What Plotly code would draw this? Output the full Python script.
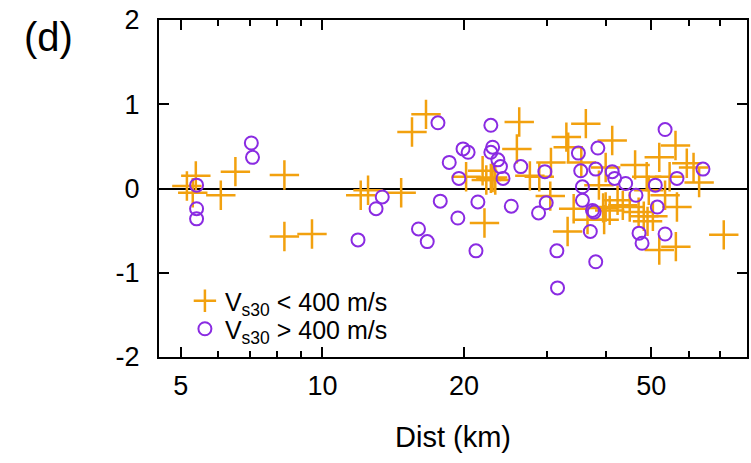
import plotly.graph_objects as go

# Residuals versus hypocentral distance, split by site class
dist_soft = [5.15, 5.38, 5.3, 6.08, 6.53, 8.3, 8.3, 9.5, 12.06, 12.5, 14.7, 15.5, 16.6,
             20.2, 21.9, 22.3, 22.8, 23.3, 23.0, 22.1, 26.2, 25.9, 27.6, 28.9, 30.6, 30.5,
             33.0, 33.3, 36.3, 35.5, 33.2, 34.2, 36.6, 38.7, 39.5, 39.7, 41.3, 56.3, 52.0,
             46.2, 59.5, 61.5, 48.9, 54.7, 63.2, 40.0, 49.4, 40.0, 42.4, 43.5, 45.0, 40.8,
             47.0, 48.2, 49.1, 50.4, 53.5, 56.7, 52.0, 56.4, 71.3]
res_soft = [0.03, 0.15, -0.05, -0.08, 0.2, 0.16, -0.57, -0.54, -0.08, -0.02, -0.05, 0.67, 0.88,
            0.14, 0.21, 0.1, 0.12, 0.1, 0.13, -0.41, 0.79, 0.47, 0.15, 0.14, 0.31, -0.09,
            0.61, 0.49, 0.77, 0.31, -0.51, -0.24, -0.37, 0.04, -0.23, -0.37, 0.57, 0.51, 0.37,
            0.28, 0.30, 0.25, 0.14, 0.14, 0.07, 0.25, -0.02, -0.22, -0.14, -0.2, -0.22, -0.26,
            -0.28, -0.33, -0.39, -0.33, -0.08, -0.22, -0.73, -0.69, -0.55]

dist_rock = [5.4, 5.4, 5.4, 7.06, 7.1, 11.9, 13.4, 13.0, 16.0, 16.7, 17.6, 17.8, 18.6, 19.5,
             19.4, 19.9, 20.4, 21.4, 21.2, 22.8, 23.0, 22.8, 23.6, 23.9, 24.2, 26.4, 25.2,
             28.8, 29.9, 29.7, 31.5, 31.6, 35.0, 35.4, 38.5, 38.1, 35.7, 35.7, 37.5, 37.8,
             37.1, 38.1, 53.5, 41.3, 41.8, 44.1, 46.4, 51.0, 51.5, 56.7, 64.4, 47.1, 47.8, 53.5]
res_rock = [0.04, -0.24, -0.36, 0.54, 0.37, -0.61, -0.1, -0.24, -0.48, -0.63, 0.78, -0.15, 0.31, 0.12,
            -0.35, 0.47, 0.43, -0.16, -0.74, 0.75, 0.49, 0.43, 0.34, 0.26, 0.12, 0.26, -0.21,
            -0.29, -0.17, 0.2, -0.74, -1.18, 0.42, 0.21, 0.48, 0.23, 0.02, -0.14, -0.26, -0.28,
            -0.51, -0.87, 0.70, 0.2, 0.12, 0.06, -0.08, 0.04, -0.22, 0.12, 0.23, -0.53, -0.65, -0.54]

x_major = [5, 10, 20, 50]
x_minor = [6, 7, 8, 9, 30, 40, 60, 70]
y_ticks = [-2, -1, 0, 1, 2]

ORANGE = "#F2A10F"
PURPLE = "#8A2BE2"
FONT = "Liberation Sans, Arial, sans-serif"

# plot-area geometry in pixels (used to place the legends and panel label)
L, T, W, H = 159, 20, 590, 337


def px_x(px):
    return (px - L) / W


def px_y(py):
    return (T + H - py) / H


fig = go.Figure()
fig.add_trace(go.Scatter(
    x=dist_soft, y=res_soft, mode="markers",
    name="V<sub>s30</sub> &lt; 400 m/s", legend="legend",
    marker=dict(symbol="cross-thin-open", size=21, color=ORANGE,
                line=dict(color=ORANGE, width=2.5)),
))
fig.add_trace(go.Scatter(
    x=dist_rock, y=res_rock, mode="markers",
    name="V<sub>s30</sub> &gt; 400 m/s", legend="legend2",
    marker=dict(symbol="circle-open", size=13, color=PURPLE,
                line=dict(color=PURPLE, width=2)),
))

legend_common = dict(xanchor="left", yanchor="middle", bgcolor="rgba(0,0,0,0)",
                     borderwidth=0, font=dict(size=25), itemwidth=30)

fig.update_layout(
    width=751, height=463,
    margin=dict(l=L, r=751 - L - W, t=T, b=463 - T - H),
    paper_bgcolor="white", plot_bgcolor="white",
    font=dict(family=FONT, size=27, color="black"),
    showlegend=True,
    legend=dict(x=px_x(185), y=px_y(301), **legend_common),
    legend2=dict(x=px_x(185), y=px_y(329), **legend_common),
    annotations=[dict(text="(d)", x=px_x(22), y=px_y(37), xref="paper", yref="paper",
                      xanchor="left", yanchor="middle", showarrow=False,
                      font=dict(size=40))],
)

fig.update_xaxes(
    type="log", range=[0.6525, 1.9025],
    tickvals=x_major, ticktext=[str(v) for v in x_major],
    ticks="inside", ticklen=10, tickwidth=2, tickcolor="black",
    minor=dict(tickvals=x_minor, ticks="inside", ticklen=6, tickwidth=2, tickcolor="black"),
    showline=True, linewidth=2, linecolor="black", mirror="ticks",
    showgrid=False, zeroline=False,
    ticklabelstandoff=4,
    title=dict(text="Dist (km)", standoff=26, font=dict(size=29)),
)
fig.update_yaxes(
    range=[-2, 2], tickvals=y_ticks, ticktext=[str(v) for v in y_ticks],
    ticks="inside", ticklen=10, tickwidth=2, tickcolor="black",
    showline=True, linewidth=2, linecolor="black", mirror="ticks",
    showgrid=False, zeroline=True, zerolinecolor="black", zerolinewidth=2,
    ticklabelstandoff=12,
)

fig.write_html("out.html")
